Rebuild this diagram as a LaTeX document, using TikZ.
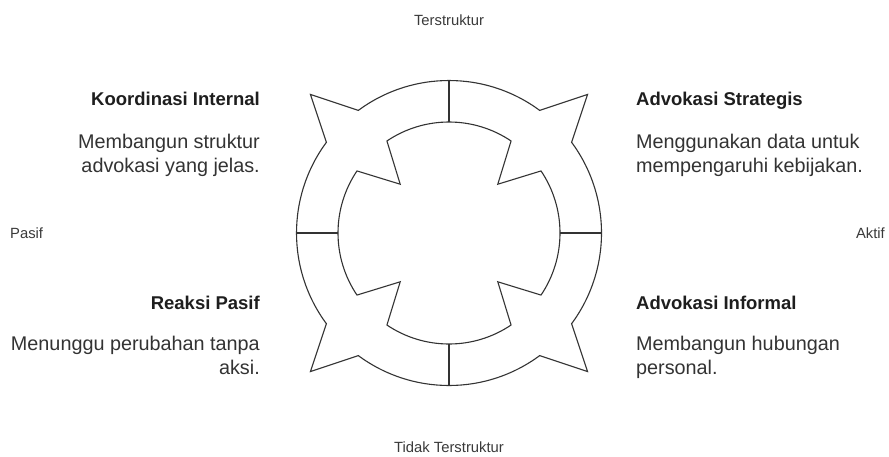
\documentclass[tikz,border=0pt]{standalone}
\usepackage{fontspec}
\setmainfont{Liberation Sans}
\definecolor{shapec}{HTML}{333333}
\definecolor{headc}{HTML}{1E1E1E}
\definecolor{bodyc}{HTML}{333333}
\definecolor{axisc}{HTML}{3A3A3A}
\begin{document}
\begin{tikzpicture}[x=1pt,y=-1pt,
  ring/.style={draw=shapec,line width=1.1pt,line join=miter},
  divider/.style={draw=shapec,line width=1.6pt},
  heading/.style={font=\bfseries\fontsize{18.5}{22}\selectfont,text=headc,inner sep=0pt},
  body/.style={font=\fontsize{19.8}{24}\selectfont,text=bodyc,inner sep=0pt},
  axislabel/.style={font=\fontsize{14.8}{18}\selectfont,text=axisc,inner sep=0pt}]
\useasboundingbox[fill=white] (0,0) rectangle (889,456);

% four-part ring with outward points and inward notches
\begin{scope}[shift={(449,233)},yscale=-1]
  \def\Ro{152.5}\def\Rt{196}\def\ro{111}\def\rt{69}
  \draw[ring] (0:\Ro) arc[start angle=0,end angle=36.5,radius=\Ro]
    -- (45:\Rt) -- (53.5:\Ro) arc[start angle=53.5,end angle=126.5,radius=\Ro]
    -- (135:\Rt) -- (143.5:\Ro) arc[start angle=143.5,end angle=216.5,radius=\Ro]
    -- (225:\Rt) -- (233.5:\Ro) arc[start angle=233.5,end angle=306.5,radius=\Ro]
    -- (315:\Rt) -- (323.5:\Ro) arc[start angle=323.5,end angle=360,radius=\Ro] -- cycle;
  \draw[ring] (0:\ro) arc[start angle=0,end angle=34,radius=\ro]
    -- (45:\rt) -- (56:\ro) arc[start angle=56,end angle=124,radius=\ro]
    -- (135:\rt) -- (146:\ro) arc[start angle=146,end angle=214,radius=\ro]
    -- (225:\rt) -- (236:\ro) arc[start angle=236,end angle=304,radius=\ro]
    -- (315:\rt) -- (326:\ro) arc[start angle=326,end angle=360,radius=\ro] -- cycle;
  \foreach \a in {0,90,180,270}
    \draw[divider] (\a:\ro) -- (\a:\Ro);
\end{scope}

% axis labels
\node[axislabel,anchor=base] (top) at (449,25) {Terstruktur};
\node[axislabel,anchor=base] (bottom) at (449,452) {Tidak Terstruktur};
\node[axislabel,anchor=base west] (left) at (10,238) {Pasif};
\node[axislabel,anchor=base east] (right) at (885,238) {Aktif};

% quadrant descriptions
\node[heading,anchor=base east] (tlh) at (260,105) {Koordinasi Internal};
\node[body,anchor=base east] (tl1) at (260,148) {Membangun struktur};
\node[body,anchor=base east] (tl2) at (260,172) {advokasi yang jelas.};

\node[heading,anchor=base west] (trh) at (636,105) {Advokasi Strategis};
\node[body,anchor=base west] (tr1) at (636,148) {Menggunakan data untuk};
\node[body,anchor=base west] (tr2) at (636,172) {mempengaruhi kebijakan.};

\node[heading,anchor=base east] (blh) at (260,309) {Reaksi Pasif};
\node[body,anchor=base east] (bl1) at (260,350) {Menunggu perubahan tanpa};
\node[body,anchor=base east] (bl2) at (260,374) {aksi.};

\node[heading,anchor=base west] (brh) at (636,309) {Advokasi Informal};
\node[body,anchor=base west] (br1) at (636,350) {Membangun hubungan};
\node[body,anchor=base west] (br2) at (636,374) {personal.};
\end{tikzpicture}
\end{document}
